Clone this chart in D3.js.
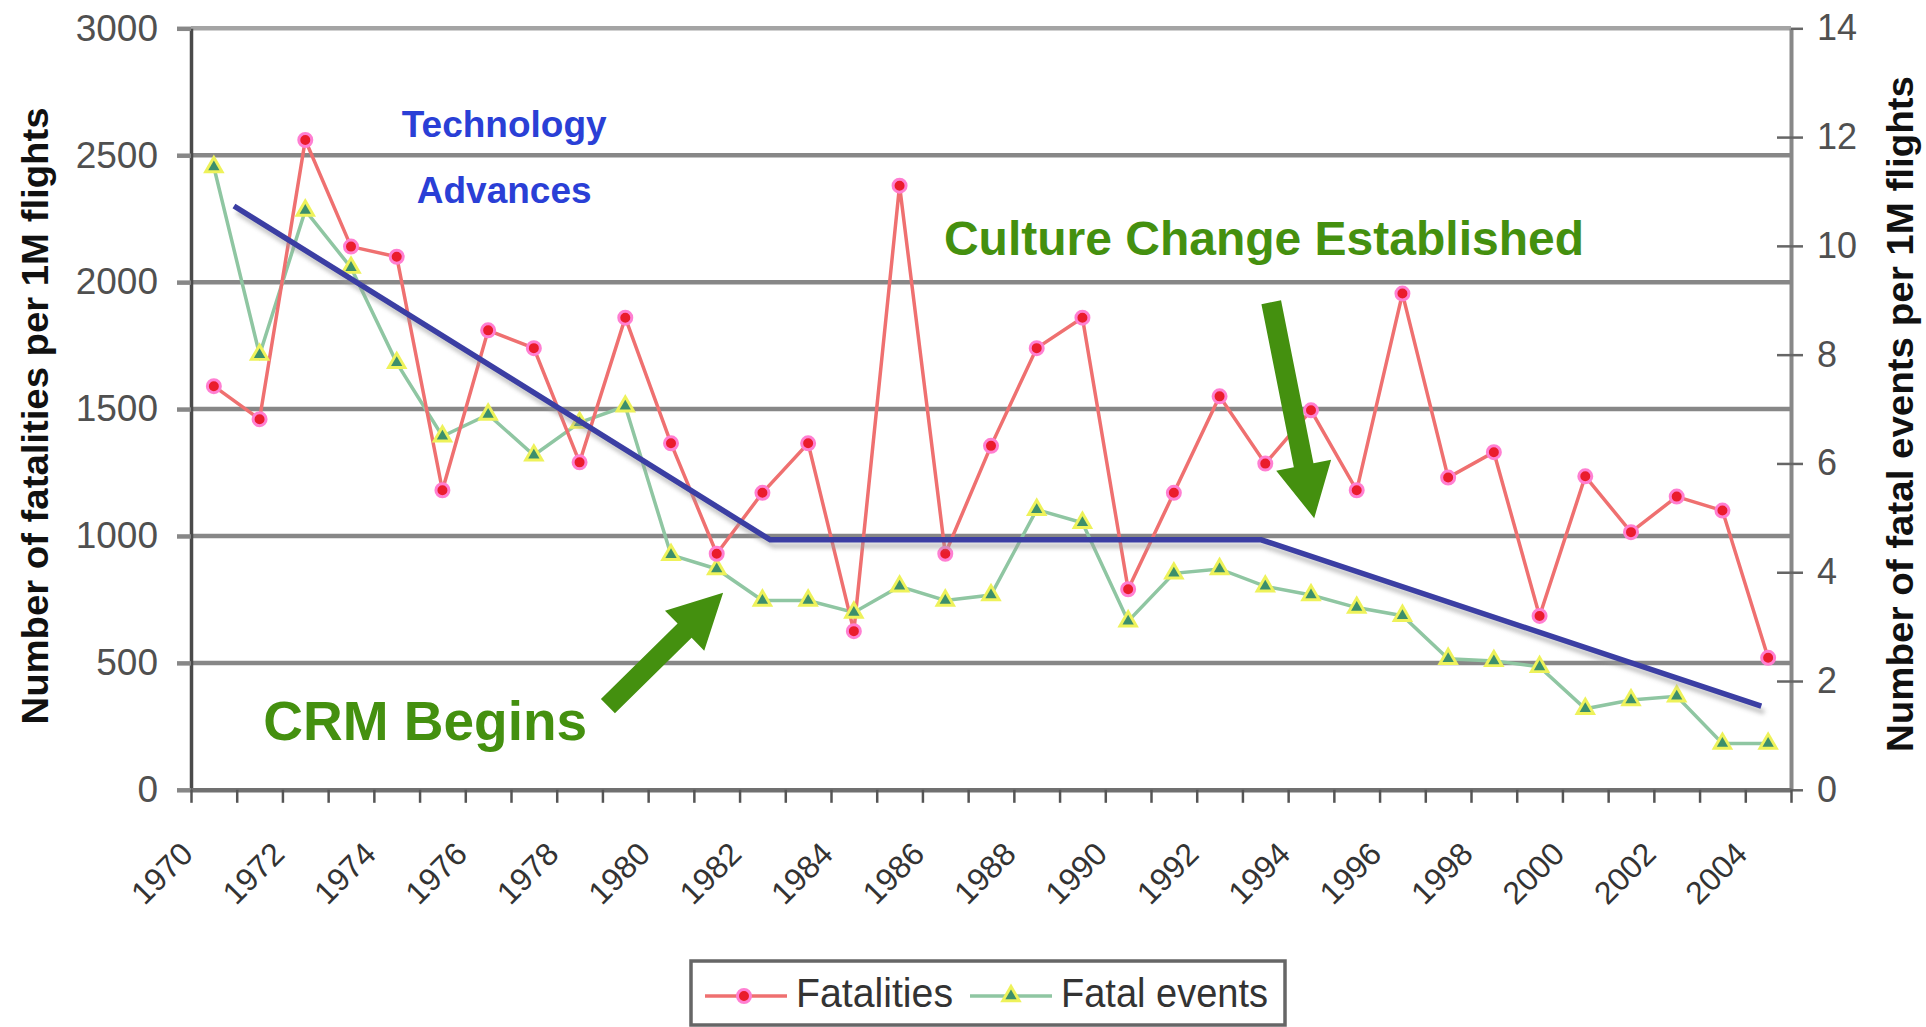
<!DOCTYPE html>
<html>
<head>
<meta charset="utf-8">
<script src="https://cdn.jsdelivr.net/npm/d3@7"></script>
<style>
  body { margin: 0; background: #fff; }
  text { font-family: "Liberation Sans", Arial, sans-serif; }
</style>
</head>
<body>
<svg id="canvas" width="1926" height="1027"></svg>
<script>
/*
Categories: one per year */
var years = [1970, 1971, 1972, 1973, 1974, 1975, 1976, 1977, 1978, 1979,
             1980, 1981, 1982, 1983, 1984, 1985, 1986, 1987, 1988, 1989,
             1990, 1991, 1992, 1993, 1994, 1995, 1996, 1997, 1998, 1999,
             2000, 2001, 2002, 2003, 2004];
/*
Fatalities per 1M flights (left axis) */
var fatalities = [1590, 1460, 2560, 2140, 2100, 1180, 1810, 1740, 1290, 1860,
                  1365, 930, 1170, 1365, 625, 2380, 930, 1355, 1740, 1860,
                  790, 1170, 1550, 1285, 1495, 1180, 1955, 1230, 1330, 685,
                  1235, 1015, 1155, 1100, 520];
/*
Fatal events per 1M flights (right axis) */
var fatal_events = [11.45, 8.0, 10.65, 9.6, 7.85, 6.5, 6.9, 6.15, 6.75, 7.05,
                    4.32, 4.06, 3.48, 3.48, 3.26, 3.74, 3.48, 3.58, 5.15, 4.91,
                    3.1, 3.98, 4.06, 3.74, 3.58, 3.35, 3.2, 2.41, 2.37, 2.26,
                    1.49, 1.65, 1.72, 0.85, 0.85];
/*
Hand drawn trend line (year, left axis value) */
var trend_years = [1970.44, 1982.17, 1992.91, 2003.85];
var trend_values = [2300, 985, 985, 330];
/*
Tick labels */
var left_ticks = [0, 500, 1000, 1500, 2000, 2500, 3000];
var right_ticks = [0, 2, 4, 6, 8, 10, 12, 14];
var year_labels = [1970, 1972, 1974, 1976, 1978, 1980, 1982, 1984, 1986, 1988,
                   1990, 1992, 1994, 1996, 1998, 2000, 2002, 2004];
/*
Annotations, placed in (year, left axis value) */
var notes = [
  { text: "Technology", year: 1976.35, value: 2572, size: 37, color: "#2a3fd6", anchor: "middle" },
  { text: "Advances", year: 1976.35, value: 2312, size: 37, color: "#2a3fd6", anchor: "middle" },
  { text: "Culture Change Established", year: 1985.97, value: 2107, size: 48, color: "#44900f", anchor: "start" },
  { text: "CRM Begins", year: 1971.08, value: 197, size: 55, color: "#44900f", anchor: "start" }
];
var arrows = [
  { from: [1978.62, 330], to: [1981.14, 776] },
  { from: [1993.13, 1921], to: [1994.07, 1070] }
];

var plot_left = 191, plot_right = 1791, plot_top = 28.3, plot_bottom = 789.8;

var svg = d3.select("#canvas");

var x = d3.scaleBand().domain(years).range([plot_left, plot_right]).padding(0);
var xYear = d3.scaleLinear().domain([1969.5, 2004.5]).range([plot_left, plot_right]);
var yL = d3.scaleLinear().domain([0, 3000]).range([plot_bottom, plot_top]);
var yR = d3.scaleLinear().domain([0, 14]).range([plot_bottom, plot_top]);

function cx(i) { return x(years[i]) + x.bandwidth() / 2; }

var defs = svg.append("defs");
defs.append("filter").attr("id", "blur")
    .append("feGaussianBlur").attr("stdDeviation", 2);

/*
Gridlines */
svg.append("g").selectAll("line")
    .data(left_ticks.filter(function(d) { return d > 0; }))
    .enter().append("line")
    .attr("x1", plot_left).attr("x2", plot_right)
    .attr("y1", function(d) { return yL(d); })
    .attr("y2", function(d) { return yL(d); })
    .attr("stroke", function(d) { return d == 3000 ? "#a4a4a4" : "#878787"; })
    .attr("stroke-width", 4.5);

/*
Left axis */
var gL = svg.append("g").attr("transform", "translate(" + plot_left + ",0)")
    .call(d3.axisLeft(yL).tickValues(left_ticks).tickFormat(d3.format("d"))
          .tickSize(14).tickSizeOuter(0).tickPadding(19));
gL.select(".domain").attr("stroke", "#4a4a4a").attr("stroke-width", 3.5);
gL.selectAll(".tick line").attr("stroke", "#878787").attr("stroke-width", 4.5);
gL.selectAll(".tick text").attr("font-size", 37).attr("fill", "#505050")
    .style("font-family", "'Liberation Sans', Arial, sans-serif");

/*
Right axis */
var gR = svg.append("g").attr("transform", "translate(" + plot_right + ",0)")
    .call(d3.axisRight(yR).tickValues(right_ticks).tickSize(12).tickSizeOuter(0).tickPadding(14));
gR.select(".domain").attr("stroke", "#888").attr("stroke-width", 4);
gR.selectAll(".tick line").attr("stroke", "#666").attr("stroke-width", 2.5);
gR.selectAll(".tick").filter(function(d) { return d > 0 && d < 14; })
    .append("line").attr("x1", -14).attr("x2", 0)
    .attr("stroke", "#666").attr("stroke-width", 2.5);
gR.selectAll(".tick text").attr("font-size", 36).attr("fill", "#505050")
    .style("font-family", "'Liberation Sans', Arial, sans-serif");

/*
Bottom axis: ticks between categories */
var boundaries = years.map(function(d) { return d - 0.5; }).concat([2004.5]);
var gB = svg.append("g").attr("transform", "translate(0," + plot_bottom + ")")
    .call(d3.axisBottom(xYear).tickValues(boundaries).tickSize(13).tickSizeOuter(0).tickFormat(""));
gB.select(".domain").attr("stroke", "#707070").attr("stroke-width", 4.5);
gB.selectAll(".tick line").attr("stroke", "#555").attr("stroke-width", 2.5);

svg.append("g").selectAll("text")
    .data(year_labels)
    .enter().append("text")
    .attr("transform", function(d) {
        return "translate(" + (x(d) + x.bandwidth() / 2 - 19) + "," + (plot_bottom + 66) + ") rotate(-45)";
    })
    .attr("text-anchor", "end")
    .attr("font-size", 32)
    .attr("fill", "#333")
    .text(function(d) { return d; });

/*
Axis titles */
svg.append("text")
    .attr("transform", "translate(35,416) rotate(-90)")
    .attr("text-anchor", "middle").attr("dominant-baseline", "central")
    .attr("font-size", 37).attr("font-weight", "bold").attr("fill", "#111")
    .attr("textLength", 617).attr("lengthAdjust", "spacingAndGlyphs")
    .text("Number of fatalities per 1M flights");
svg.append("text")
    .attr("transform", "translate(1900,414) rotate(-90)")
    .attr("text-anchor", "middle").attr("dominant-baseline", "central")
    .attr("font-size", 37).attr("font-weight", "bold").attr("fill", "#111")
    .attr("textLength", 676).attr("lengthAdjust", "spacingAndGlyphs")
    .text("Number of fatal events per 1M flights");

/*
Series lines */
var lineEvents = d3.line().x(function(d, i) { return cx(i); }).y(function(d) { return yR(d); });
var lineFatal = d3.line().x(function(d, i) { return cx(i); }).y(function(d) { return yL(d); });

svg.append("path").datum(fatal_events).attr("d", lineEvents)
    .attr("fill", "none").attr("stroke", "#8fc6a2").attr("stroke-width", 3.5);
svg.append("path").datum(fatalities).attr("d", lineFatal)
    .attr("fill", "none").attr("stroke", "#ef7070").attr("stroke-width", 3.5);

/*
Markers */
var tri = d3.symbol().type(d3.symbolTriangle);
var gE = svg.append("g").selectAll("g").data(fatal_events).enter().append("g")
    .attr("transform", function(d, i) { return "translate(" + cx(i) + "," + yR(d) + ")"; });
gE.append("path").attr("d", tri.size(200)()).attr("fill", "#eef25a");
gE.append("path").attr("d", tri.size(55)()).attr("fill", "#3c8f6c");

svg.append("g").selectAll("circle").data(fatalities).enter().append("circle")
    .attr("cx", function(d, i) { return cx(i); })
    .attr("cy", function(d) { return yL(d); })
    .attr("r", 6.5)
    .attr("fill", "#ea1c2c").attr("stroke", "#ff7fd2").attr("stroke-width", 3);

/*
Trend line with its shadow */
var trend = trend_years.map(function(d, i) { return [d, trend_values[i]]; });
var lineTrend = d3.line().x(function(d) { return xYear(d[0]); }).y(function(d) { return yL(d[1]); });
svg.append("path").datum(trend).attr("d", lineTrend)
    .attr("transform", "translate(3,6)")
    .attr("fill", "none").attr("stroke", "#9a9a9a").attr("stroke-width", 5)
    .attr("opacity", 0.6).attr("filter", "url(#blur)");
svg.append("path").datum(trend).attr("d", lineTrend)
    .attr("fill", "none").attr("stroke", "#3b3ea3").attr("stroke-width", 5.5);

/*
Annotations */
svg.append("g").selectAll("text").data(notes).enter().append("text")
    .attr("x", function(d) { return xYear(d.year); })
    .attr("y", function(d) { return yL(d.value); })
    .attr("text-anchor", function(d) { return d.anchor; })
    .attr("font-size", function(d) { return d.size; })
    .attr("font-weight", "bold")
    .attr("fill", function(d) { return d.color; })
    .text(function(d) { return d.text; });

function arrow_points(a) {
    var x0 = xYear(a.from[0]), y0 = yL(a.from[1]);
    var x1 = xYear(a.to[0]), y1 = yL(a.to[1]);
    var len = Math.sqrt((x1 - x0) * (x1 - x0) + (y1 - y0) * (y1 - y0));
    var ux = (x1 - x0) / len, uy = (y1 - y0) / len;
    var nx = -uy, ny = ux;
    var sw = 10, hw = 28, hl = 54;
    var bx = x1 - ux * hl, by = y1 - uy * hl;
    return [[x0 + nx * sw, y0 + ny * sw], [bx + nx * sw, by + ny * sw], [bx + nx * hw, by + ny * hw],
            [x1, y1], [bx - nx * hw, by - ny * hw], [bx - nx * sw, by - ny * sw], [x0 - nx * sw, y0 - ny * sw]];
}
svg.append("g").selectAll("polygon").data(arrows).enter().append("polygon")
    .attr("points", function(d) { return arrow_points(d).map(function(p) { return p.join(","); }).join(" "); })
    .attr("fill", "#44900f");

/*
Legend */
var lg = svg.append("g");
lg.append("rect").attr("x", 691).attr("y", 961).attr("width", 594).attr("height", 64)
    .attr("fill", "#fff").attr("stroke", "#666").attr("stroke-width", 3.5);
lg.append("line").attr("x1", 705).attr("x2", 787).attr("y1", 996).attr("y2", 996)
    .attr("stroke", "#ef7070").attr("stroke-width", 3.5);
lg.append("circle").attr("cx", 744).attr("cy", 996).attr("r", 6.5)
    .attr("fill", "#ea1c2c").attr("stroke", "#ff7fd2").attr("stroke-width", 3);
lg.append("text").attr("x", 796).attr("y", 1007).attr("font-size", 40).attr("fill", "#333")
    .attr("textLength", 157).attr("lengthAdjust", "spacingAndGlyphs").text("Fatalities");
lg.append("line").attr("x1", 970).attr("x2", 1052).attr("y1", 996).attr("y2", 996)
    .attr("stroke", "#8fc6a2").attr("stroke-width", 3.5);
var lgE = lg.append("g").attr("transform", "translate(1011,996)");
lgE.append("path").attr("d", tri.size(200)()).attr("fill", "#eef25a");
lgE.append("path").attr("d", tri.size(55)()).attr("fill", "#3c8f6c");
lg.append("text").attr("x", 1061).attr("y", 1007).attr("font-size", 40).attr("fill", "#333")
    .attr("textLength", 207).attr("lengthAdjust", "spacingAndGlyphs").text("Fatal events");
</script>
</body>
</html>
